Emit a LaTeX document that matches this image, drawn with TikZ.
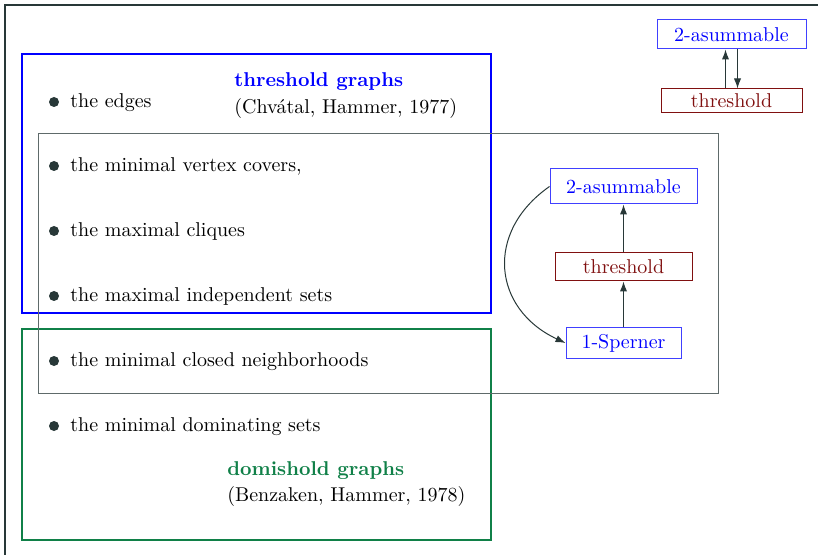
\documentclass[tikz,border=0pt]{standalone}
\usepackage{amsmath,amssymb}
\usetikzlibrary{arrows.meta,positioning,calc}

\definecolor{frame}{RGB}{40,56,56}
\definecolor{thrblue}{RGB}{0,0,255}
\definecolor{domgreen}{RGB}{16,128,72}
\definecolor{thrred}{RGB}{128,16,16}

\tikzset{
  classbox/.style={draw, line width=0.5pt, inner sep=0pt},
  asumbox/.style={classbox, draw=thrblue!75, text=thrblue},
  thrbox/.style={classbox, draw=thrred, text=thrred},
  item/.style={anchor=west, inner sep=0pt, text height=1.5ex, text depth=.25ex},
  dot/.style={circle, fill=frame, inner sep=0pt, minimum size=5pt},
  implies/.style={-{Latex[length=5pt, width=3.6pt]}, frame, line width=0.5pt},
}

\begin{document}
\begin{tikzpicture}[x=0.5pt, y=-0.5pt]
  \useasboundingbox (0,0) rectangle (818,555);
  \draw[frame, line width=1pt] (5,5) rectangle (900,650);

  % the three families
  \draw[thrblue, line width=1pt] (22,54) rectangle (491,313);
  \draw[domgreen, line width=1pt] (22,329) rectangle (491,540);
  \draw[frame!75, line width=0.5pt] (38,134) rectangle (718,393);

  \node[anchor=west, inner sep=0pt, text=thrblue] (thrname) at (234,82) {\textbf{threshold graphs}};
  \node[anchor=west, inner sep=0pt] (thrref) at (234,109) {(Chv\'atal, Hammer, 1977)};
  \node[anchor=west, inner sep=0pt, text=domgreen] (domname) at (227,471) {\textbf{domishold graphs}};
  \node[anchor=west, inner sep=0pt] (domref) at (227,496) {(Benzaken, Hammer, 1978)};

  % hypergraphs
  \node[dot] (d1) at (54,102) {};
  \node[item] (edges) at (70,102) {the edges};
  \node[dot] (d2) at (54,166) {};
  \node[item] (covers) at (70,166) {the minimal vertex covers,};
  \node[dot] (d3) at (54,231) {};
  \node[item] (cliques) at (70,231) {the maximal cliques};
  \node[dot] (d4) at (54,296) {};
  \node[item] (indep) at (70,296) {the maximal independent sets};
  \node[dot] (d5) at (54,361) {};
  \node[item] (closed) at (70,361) {the minimal closed neighborhoods};
  \node[dot] (d6) at (54,426) {};
  \node[item] (domsets) at (70,426) {the minimal dominating sets};

  % top right
  \node[asumbox, minimum width=74.5pt, minimum height=14.5pt] (tasum) at (731.5,34.5) {2-asummable};
  \node[thrbox, minimum width=70.5pt, minimum height=12pt] (tthr) at (731.5,101) {threshold};
  \draw[implies] ([xshift=-3pt]tthr.north) -- ([xshift=-3pt]tasum.south);
  \draw[implies] ([xshift=3pt]tasum.south) -- ([xshift=3pt]tthr.north);

  % inside
  \node[asumbox, minimum width=73.5pt, minimum height=17.5pt] (masum) at (623.5,186.5) {2-asummable};
  \node[thrbox, minimum width=68.5pt, minimum height=14pt] (mthr) at (623.5,267) {threshold};
  \node[asumbox, minimum width=57.5pt, minimum height=15pt] (sperner) at (623.5,343) {1-Sperner};
  \draw[implies] (mthr) -- (masum);
  \draw[implies] (sperner) -- (mthr);
  \draw[implies] (masum.west) to[out=215, in=155, looseness=1.3] (sperner.west);
\end{tikzpicture}
\end{document}
